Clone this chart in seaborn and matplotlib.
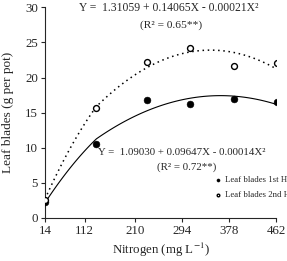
import matplotlib as mpl
import seaborn as sns
import pandas as pd
import numpy as np

plt = mpl.pyplot

# Data
nitrogen = [14, 141, 231, 309, 387, 464]
harvest1 = [2.2, 10.6, 16.8, 16.2, 16.9, 16.5]
harvest2 = [2.6, 15.6, 22.2, 24.2, 21.6, 22.1]
xticks = [14, 112, 210, 294, 378, 462]
yticks = [0, 5, 10, 15, 20, 25, 30]

eq1 = 'Y =  1.09030 + 0.09647X - 0.00014X²'
r1 = '(R² = 0.72**)'
eq2 = 'Y =  1.31059 + 0.14065X - 0.00021X²'
r2 = '(R² = 0.65**)'

data = pd.DataFrame({'N': nitrogen, 'H1': harvest1, 'H2': harvest2})

sns.set_style('ticks')
mpl.rcParams['font.family'] = ['Liberation Serif', 'DejaVu Serif']
mpl.rcParams['mathtext.fontset'] = 'stix'
mpl.rcParams['font.size'] = 9.3

# the first interval of the axis is compressed in the original figure
BRK = 141
K = 0.72
def fwd(x):
    x = np.asarray(x, dtype=float)
    return np.where(x < BRK, BRK - (BRK - x) * K, x)
def inv(y):
    y = np.asarray(y, dtype=float)
    return np.where(y < BRK, BRK - (BRK - y) / K, y)

fig = plt.figure(figsize=(2.87, 2.61), dpi=100)
ax = fig.add_axes([0.157, 0.165, 0.805, 0.807])
ax.set_xscale('function', functions=(fwd, inv))

sns.regplot(x='N', y='H2', data=data, order=2, ci=None, scatter=False, truncate=True,
            line_kws=dict(color='black', lw=1.1, ls=(0, (1, 2.4))), ax=ax)
sns.regplot(x='N', y='H1', data=data, order=2, ci=None, scatter=False, truncate=True,
            line_kws=dict(color='black', lw=0.8), ax=ax)
sns.scatterplot(x='N', y='H1', data=data, color='black', edgecolor='black', s=24,
                label='Leaf blades 1st Harvest', ax=ax, zorder=5)
sns.scatterplot(x='N', y='H2', data=data, facecolor='white', edgecolor='black', s=18,
                linewidth=1.0, label='Leaf blades 2nd Harvest', ax=ax, zorder=5)

ax.set_xlim(14, 462)
ax.set_ylim(0, 30)
ax.set_xticks(xticks)
ax.set_xticklabels([str(v) for v in xticks])
ax.set_yticks(yticks)
ax.minorticks_off()
ax.tick_params(length=3, width=0.8, pad=2, labelsize=9.3)
for s in ['top', 'right']:
    ax.spines[s].set_visible(False)
for s in ['left', 'bottom']:
    ax.spines[s].set_linewidth(0.8)

ax.set_xlabel('Nitrogen (mg L$^{-1}$)', fontsize=9.3, labelpad=3)
ax.set_ylabel('Leaf blades (g per pot)', fontsize=9.5, labelpad=8)

fig.text(0.275, 0.969, eq2, fontsize=8.4, ha='left', va='center')
fig.text(0.595, 0.904, r2, fontsize=8.2, ha='center', va='center')
fig.text(0.341, 0.415, eq1, fontsize=7.8, ha='left', va='center')
fig.text(0.650, 0.361, r1, fontsize=7.8, ha='center', va='center')

ax.legend(loc='upper left', bbox_to_anchor=(0.745, 0.325), bbox_transform=fig.transFigure,
          frameon=False, fontsize=6.3, markerscale=0.45, handletextpad=0.3, handlelength=1,
          borderpad=0, borderaxespad=0, labelspacing=0.75)

fig.savefig('out.png', dpi=100)
